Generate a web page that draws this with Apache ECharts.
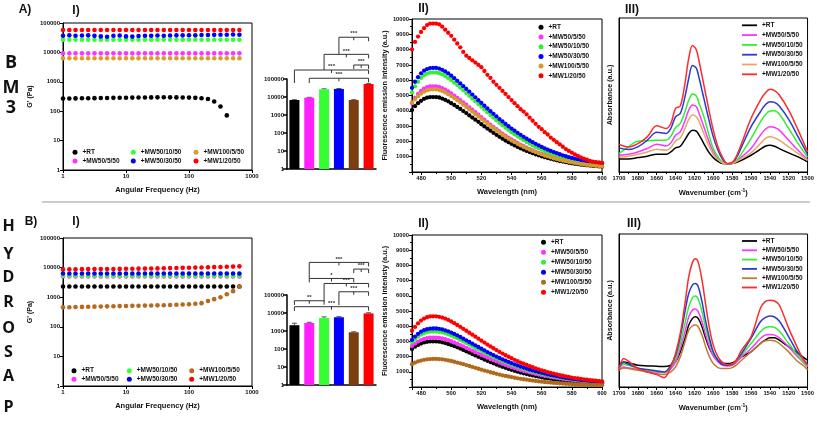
<!DOCTYPE html>
<html><head><meta charset="utf-8">
<script src="https://cdn.jsdelivr.net/npm/echarts@6/dist/echarts.min.js"></script>
<style>html,body{margin:0;padding:0;background:#fff}#c{width:817px;height:421px}</style>
</head><body><div id="c"></div>
<script>
// ---------------- DATA ----------------
const groupNames = ['+RT','+MW50/5/50','+MW50/10/50','+MW50/30/50','+MW100/5/50','+MW1/20/50'];

// I) G' vs angular frequency
const freqHz = [1,1.26,1.58,2,2.51,3.16,3.98,5.01,6.31,7.94,10,12.6,15.8,20,25.1,31.6,39.8,50.1,63.1,79.4,100,126,158,200,251,316,398,501,631];
const gA_RT    = [270,270,272,275,275,278,280,282,284,286,288,290,292,294,295,296,297,296,295,293,290,285,275,260,215,145,72,null,null];
const gA_5     = [9300,9300,9300,9300,9300,9300,9300,9300,9300,9300,9300,9300,9300,9300,9300,9300,9300,9300,9300,9300,9300,9300,9300,9300,9300,9300,9300,9300,9300];
const gA_10    = [27000,27000,27000,27000,27000,27000,27000,27000,27000,27000,27000,27000,27000,27000,27000,27000,27000,27000,27000,27000,27000,27000,27000,27000,27000,27000,27000,27000,27000];
const gA_30    = [37000,38000,37000,37500,38000,36500,35000,34000,37000,37500,35000,34500,36000,37000,37000,37500,37000,37500,38000,38000,38500,38000,39000,39000,39500,40000,40000,40500,40000];
const gA_100   = [6300,6300,6300,6300,6300,6300,6300,6300,6300,6300,6300,6300,6300,6300,6300,6300,6300,6300,6300,6300,6300,6300,6300,6300,6300,6300,6300,6300,6300];
const gA_1     = [58000,58000,58000,58000,58000,58000,58000,58000,58000,58000,58000,58000,58000,58000,58000,58000,58000,58000,58000,58000,58000,58000,58000,58000,58000,58000,58000,58000,58000];

const gB_RT    = [2300,2300,2300,2300,2300,2300,2300,2300,2300,2300,2300,2300,2300,2300,2300,2300,2300,2300,2300,2300,2300,2300,2300,2300,2300,2300,2300,2300,2300];
const gB_5     = [5000,5000,5000,5000,5000,5000,5000,5000,5000,5000,5000,5000,5000,5000,5000,5000,5000,5000,5000,5000,5000,5000,5000,5000,5000,5000,5000,5000,5000];
const gB_10    = [5300,5300,5300,5300,5300,5300,5300,5300,5300,5300,5300,5300,5300,5300,5300,5300,5300,5300,5300,5300,5300,5300,5300,5300,5300,5300,5300,5300,5300];
const gB_30    = [6300,6300,6300,6300,6300,6300,6300,6300,6300,6300,6300,6300,6300,6300,6300,6300,6300,6300,6300,6300,6300,6300,6300,6300,6300,6300,6300,6300,6300];
const gB_100   = [460,460,465,470,475,480,485,490,495,500,505,510,515,520,525,530,535,545,555,565,580,600,630,740,860,1000,1260,1600,2250];
const gB_1     = [8700,8750,8800,8850,8900,8900,8950,9000,9000,9050,9100,9150,9200,9250,9300,9400,9500,9600,9700,9800,9900,10000,10100,10200,10400,10500,10700,10800,11000];

// I) bar insets
const barA = [6800, 9200, 27000, 28000, 6800, 53000];
const barAErr = [300, 400, 1500, 1500, 300, 4000];
const barB = [2100, 2800, 5300, 5800, 850, 9500];
const barBErr = [600, 250, 800, 500, 60, 800];
// significance brackets: from group, to group, level, base of left leg, label
const brA_from = [3, 2, 4, 0, 1];
const brA_to   = [5, 5, 5, 5, 5];
const brA_lvl  = [2.09e7, 2.34e6, 6.0e5, 3.16e5, 1.1e5];
const brA_base = [2.34e6, 3.16e5, 3.6e5, 6.0e4, 6.0e4];
const brA_lab  = ['***','***','***','***','***'];
const brB_from = [1, 4, 1, 2, 3, 0, 0];
const brB_to   = [5, 5, 4, 5, 5, 2, 5];
const brB_lvl  = [6.46e6, 2.75e6, 8.3e5, 4.37e5, 1.51e5, 4.8e4, 2.24e4];
const brB_base = [8.3e5, 1.66e6, 5.0e5, 4.3e4, 2.75e4, 2.8e4, 1.3e4];
const brB_lab  = ['***','***','*','***','***','**','***'];

// II) fluorescence emission
const waveNm = [474,476,478,480,482,484,486,488,490,492,494,496,498,500,502,504,506,508,510,512,514,516,518,520,522,524,526,528,530,532,534,536,538,540,542,544,546,548,550,552,554,556,558,560,562,564,566,568,570,572,574,576,578,580,582,584,586,588,590,592,594,596,598,600];
const flA_RT  = [4050,4300,4500,4650,4780,4860,4900,4900,4900,4870,4800,4720,4620,4500,4380,4250,4120,3980,3850,3700,3560,3420,3280,3120,2980,2840,2700,2560,2430,2300,2180,2060,1950,1840,1740,1640,1550,1460,1380,1300,1230,1160,1090,1030,970,910,860,810,760,720,680,640,600,570,540,510,480,460,440,420,400,380,365,350];
const flA_5   = [4500,4850,5100,5300,5450,5550,5600,5600,5600,5560,5480,5380,5260,5130,4990,4850,4700,4550,4400,4230,4070,3910,3750,3580,3420,3260,3100,2950,2800,2650,2510,2380,2250,2130,2010,1900,1790,1690,1590,1500,1410,1330,1250,1180,1110,1050,990,930,880,830,780,740,700,660,620,590,560,530,500,480,460,440,420,400];
const flA_10  = [5200,5600,5900,6150,6320,6430,6490,6500,6500,6460,6380,6270,6140,6000,5840,5680,5510,5340,5160,4980,4800,4620,4440,4260,4080,3900,3720,3550,3380,3210,3050,2900,2750,2600,2460,2330,2200,2080,1960,1850,1740,1640,1550,1460,1370,1290,1210,1140,1070,1010,950,890,840,790,740,700,660,620,590,560,530,500,480,460];
const flA_30  = [5500,5900,6200,6450,6620,6730,6790,6800,6800,6760,6680,6570,6440,6290,6130,5960,5790,5610,5430,5250,5060,4880,4690,4510,4330,4150,3970,3800,3630,3460,3300,3140,2990,2840,2700,2560,2430,2300,2180,2060,1950,1840,1740,1640,1550,1460,1380,1300,1230,1160,1090,1030,970,920,870,820,780,740,700,670,640,610,580,560];
const flA_100 = [4550,4750,4950,5120,5250,5340,5390,5400,5400,5360,5290,5200,5080,4960,4830,4690,4550,4400,4250,4090,3940,3780,3630,3470,3310,3160,3010,2860,2720,2580,2440,2310,2180,2060,1950,1840,1740,1640,1550,1460,1380,1300,1220,1150,1080,1020,960,900,850,800,750,710,670,630,590,560,530,500,470,450,430,410,390,370];
const flA_1   = [8000,8500,8850,9150,9400,9600,9700,9700,9700,9650,9500,9300,9100,8900,8650,8400,8150,7850,7600,7450,7300,7150,7000,6850,6600,6350,6150,5900,5700,5500,5300,5100,4900,4700,4500,4300,4100,3950,3760,3550,3350,3150,2950,2800,2600,2450,2250,2100,1950,1800,1650,1500,1380,1260,1150,1050,960,880,800,720,680,650,620,600];

const flB_RT  = [2500,2650,2770,2860,2930,2970,3000,3000,3000,2980,2940,2890,2830,2760,2690,2610,2530,2440,2350,2260,2170,2080,1990,1900,1810,1720,1640,1560,1480,1400,1330,1260,1190,1130,1070,1010,950,900,850,800,760,720,680,640,600,570,540,510,480,460,430,410,390,370,350,335,320,305,290,280,270,260,250,240];
const flB_5   = [2700,2860,2990,3090,3170,3220,3250,3250,3250,3230,3190,3140,3080,3010,2930,2850,2760,2670,2580,2480,2390,2290,2200,2110,2020,1930,1840,1760,1680,1600,1520,1450,1380,1310,1250,1180,1120,1060,1010,960,910,860,820,780,740,700,660,630,600,570,540,510,490,470,440,420,400,385,370,355,340,325,315,300];
const flB_10  = [2950,3150,3320,3450,3550,3610,3640,3650,3650,3630,3590,3530,3460,3380,3290,3200,3100,3000,2900,2790,2690,2580,2480,2370,2270,2170,2070,1980,1890,1800,1710,1630,1550,1470,1400,1330,1260,1190,1130,1070,1010,960,910,860,820,770,730,690,660,620,590,560,530,500,480,450,430,410,390,370,355,340,325,310];
const flB_30  = [3100,3320,3500,3640,3740,3800,3840,3850,3850,3830,3790,3730,3660,3580,3490,3390,3290,3180,3070,2960,2850,2740,2630,2520,2410,2300,2200,2100,2000,1910,1820,1730,1650,1570,1490,1420,1350,1280,1210,1150,1090,1030,980,930,880,830,790,750,710,670,640,600,570,540,510,490,460,440,420,400,380,360,345,330];
const flB_100 = [1500,1600,1680,1740,1790,1820,1840,1850,1850,1840,1820,1790,1750,1710,1660,1610,1560,1500,1440,1380,1320,1260,1200,1140,1080,1030,970,920,870,820,770,730,690,650,610,570,540,510,480,450,420,400,370,350,330,310,290,270,260,240,230,215,200,190,180,170,160,150,145,140,135,130,125,120];
const flB_1   = [3700,3950,4180,4370,4500,4590,4640,4650,4650,4620,4570,4500,4410,4310,4200,4080,3960,3830,3700,3570,3440,3310,3180,3050,2920,2790,2670,2550,2430,2310,2200,2090,1990,1890,1790,1700,1610,1530,1450,1370,1300,1230,1160,1100,1040,980,930,880,830,780,740,700,660,620,590,560,530,500,480,450,430,410,390,370];

// III) FTIR absorbance (a.u.)
const wnA = [1700,1690,1680,1670,1660,1650,1645,1640,1635,1630,1626,1622,1618,1615,1610,1605,1600,1595,1590,1585,1580,1575,1570,1560,1550,1545,1540,1535,1530,1520,1510,1500];
const irA_RT  = [39,39,43,47,53,53,60,72,77,97,115,125,122,110,85,60,43,32,25,24,25,29,35,50,68,77,80,77,70,57,45,30];
const irA_5   = [50,53,60,70,83,78,87,110,120,153,185,200,195,175,135,95,60,40,27,25,27,35,45,70,110,127,135,133,125,95,65,37];
const irA_10  = [55,75,92,93,95,95,107,133,145,180,215,233,227,205,165,115,70,45,29,23,25,35,55,100,150,170,182,183,173,130,85,45];
const irA_30  = [72,67,75,95,119,115,130,165,175,225,280,318,310,280,220,160,105,65,37,25,27,45,75,135,180,200,210,208,197,157,105,53];
const irA_100 = [45,47,53,60,68,65,73,93,102,130,157,170,165,150,115,80,53,37,27,25,26,32,40,57,85,100,105,102,95,75,55,35];
const irA_1   = [83,75,85,105,138,130,145,190,197,265,340,378,365,330,260,190,125,75,43,25,28,50,85,160,215,235,247,243,230,185,125,60];

const wnB = [1700,1695,1690,1680,1670,1660,1652,1645,1640,1635,1630,1626,1622,1619,1616,1612,1608,1604,1600,1595,1590,1585,1580,1575,1570,1560,1550,1545,1540,1535,1530,1520,1512,1505,1500];
const irB_RT  = [67,75,72,65,63,62,61,65,75,105,145,185,205,210,205,180,145,115,95,80,72,70,72,80,90,105,130,140,147,147,140,120,105,90,80];
const irB_5   = [50,60,57,53,48,45,43,55,75,115,165,210,230,233,225,195,155,120,93,75,65,63,65,75,90,115,145,155,157,155,147,120,95,75,60];
const irB_10  = [55,67,65,55,50,47,45,60,85,130,190,240,267,272,263,225,175,135,102,80,69,65,67,80,95,130,165,177,180,178,167,130,100,77,63];
const irB_30  = [57,73,68,57,52,48,45,65,95,150,225,280,305,309,300,255,195,145,105,80,67,65,67,82,100,145,195,207,212,209,197,150,110,85,67];
const irB_100 = [50,57,55,50,45,40,37,45,60,90,135,170,183,185,180,155,120,90,70,58,55,55,58,67,80,105,130,138,140,138,130,105,80,65,52];
const irB_1   = [50,85,77,55,45,37,28,60,100,160,250,330,373,383,373,320,245,175,125,90,73,67,68,83,110,150,235,255,259,257,245,175,125,85,65];

// ---------------- STYLE ----------------
const FONT = '"Liberation Sans", Arial, sans-serif';
const colI_A   = ['#000000','#ff33ff','#33ff33','#0000ff','#d6a02e','#ff0000'];
const colI_B   = ['#000000','#ff33ff','#33ff33','#0000ff','#b8691e','#ff0000'];
const colBar   = ['#000000','#ff22ff','#33ff33','#0000ff','#7a3e10','#ff0000'];
const colII_A  = ['#000000','#ff33ff','#33ee33','#0000ff','#d49a2c','#ff0000'];
const colII_B  = ['#000000','#ff33ff','#33ee33','#0000ff','#b06a1c','#ff0000'];
const colIII_A = ['#000000','#ff33ff','#33ee33','#2a3bcc','#e4a864','#ff2a2a'];
const colIII_B = ['#000000','#ff33ff','#33ee33','#2a3bcc','#c07a30','#ff2a2a'];

function txt(size, extra){ return Object.assign({fontFamily:FONT, fontWeight:'bold', color:'#111', fontSize:size}, extra||{}); }
function fmtInt(v){ return String(Math.round(v)); }
const axLine = {show:true, onZero:false, lineStyle:{color:'#000', width:1}};
function ticks(len){ return {show:true, inside:false, length:len, lineStyle:{color:'#000', width:1}}; }
const noSplit = {show:false};

const grids = [
  {left:63,  top:23,  width:189, height:147, show:true, borderColor:'#000', borderWidth:1}, // A-I
  {left:63,  top:238, width:189, height:148, show:true, borderColor:'#000', borderWidth:1}, // B-I
  {left:287, top:79,  width:89,  height:90}, // A bar
  {left:287, top:295, width:89,  height:90}, // B bar
  {left:412, top:19,  width:190, height:153, show:true, borderColor:'#000', borderWidth:1}, // A-II
  {left:412, top:235, width:190, height:152, show:true, borderColor:'#000', borderWidth:1}, // B-II
  {left:619, top:18,  width:190, height:154, show:true, borderColor:'#000', borderWidth:1}, // A-III
  {left:619, top:234, width:190, height:153, show:true, borderColor:'#000', borderWidth:1}  // B-III
];

const xAxes = [], yAxes = [];
[0,1].forEach(g => {
  xAxes.push({gridIndex:g, type:'log', logBase:10, min:1, max:1000, axisLine:axLine, axisTick:ticks(3), splitLine:noSplit,
    axisLabel:txt(6,{margin:3, formatter:fmtInt}), name:'Angular Frequency (Hz)', nameLocation:'middle', nameGap:16, nameTextStyle:txt(7.5)});
  yAxes.push({gridIndex:g, type:'log', logBase:10, min:1, max:100000, axisLine:axLine, axisTick:ticks(3), splitLine:noSplit,
    axisLabel:txt(6,{margin:3, formatter:fmtInt}), name:"G' (Pa)", nameLocation:'middle', nameGap:29, nameRotate:90, nameTextStyle:txt(7)});
});
[2,3].forEach(g => {
  xAxes.push({gridIndex:g, type:'category', data:groupNames, axisLine:{show:true, lineStyle:{color:'#000', width:1.5}},
    axisTick:{show:false}, axisLabel:{show:false}, splitLine:noSplit});
  yAxes.push({gridIndex:g, type:'log', logBase:10, min:1, max:100000, axisLine:{show:true, lineStyle:{color:'#000', width:1.5}},
    axisTick:{show:true, length:4, lineStyle:{color:'#000', width:1.5}}, splitLine:noSplit, axisLabel:txt(6,{margin:3, formatter:fmtInt})});
});
[4,5].forEach(g => {
  xAxes.push({gridIndex:g, type:'value', min:474, max:600, minInterval:20, maxInterval:20, axisLine:axLine, axisTick:ticks(3),
    minorTick:{show:true, splitNumber:2, length:2, lineStyle:{color:'#000'}}, splitLine:noSplit,
    axisLabel:txt(5.8,{margin:3, formatter:fmtInt}), name:'Wavelength (nm)', nameLocation:'middle', nameGap:16, nameTextStyle:txt(7.5)});
  yAxes.push({gridIndex:g, type:'value', min:0, max:10000, interval:1000, axisLine:axLine, axisTick:ticks(3),
    minorTick:{show:true, splitNumber:2, length:2, lineStyle:{color:'#000'}}, splitLine:noSplit,
    axisLabel:txt(5.8,{margin:3, formatter:v => v === 0 ? '' : String(v)}),
    name: g === 4 ? 'Fluorescence emission intensity (a.u.)' : 'Fluorescence emission intenisty (a.u.)',
    nameLocation:'middle', nameGap:22, nameRotate:90, nameTextStyle:txt(7.2)});
});
[6,7].forEach(g => {
  xAxes.push({gridIndex:g, type:'value', inverse:true, min:1500, max:1700, interval:20, axisLine:axLine, axisTick:ticks(3),
    minorTick:{show:true, splitNumber:2, length:2, lineStyle:{color:'#000'}}, splitLine:noSplit,
    axisLabel:txt(5.8,{margin:3, formatter:fmtInt}), name:'Wavenumber (cm{s|-1})', nameLocation:'middle', nameGap:16,
    nameTextStyle:txt(7.5,{rich:{s:{fontFamily:FONT, fontWeight:'bold', fontSize:5, color:'#111', padding:[0,0,5,0]}}})});
  yAxes.push({gridIndex:g, type:'value', min:0, max: g === 6 ? 460 : 457, axisLine:axLine, axisTick:{show:false}, axisLabel:{show:false},
    splitLine:noSplit, name:'Absorbance (a.u.)', nameLocation:'middle', nameGap:5, nameRotate:90, nameTextStyle:txt(7.2)});
});

const series = [];
function scatterSet(prefix, g, xs, lists, colors, size){
  lists.forEach((vals, k) => {
    const data = [];
    xs.forEach((x, i) => { if (vals[i] != null) data.push([x, vals[i]]); });
    series.push({name: prefix + '|' + groupNames[k], type:'scatter', xAxisIndex:g, yAxisIndex:g, symbol:'circle',
      symbolSize:size, itemStyle:{color:colors[k], opacity:1}, data});
  });
}
function lineSet(prefix, g, xs, lists, colors){
  lists.forEach((vals, k) => {
    series.push({name: prefix + '|' + groupNames[k], type:'line', xAxisIndex:g, yAxisIndex:g, symbol:'none', smooth:0.35,
      lineStyle:{color:colors[k], width:1.5}, itemStyle:{color:colors[k]}, data: xs.map((x, i) => [x, vals[i]])});
  });
}
scatterSet('aI', 0, freqHz, [gA_RT, gA_5, gA_10, gA_30, gA_100, gA_1], colI_A, 4.6);
scatterSet('bI', 1, freqHz, [gB_RT, gB_5, gB_10, gB_30, gB_100, gB_1], colI_B, 4.6);
scatterSet('aII', 4, waveNm, [flA_RT, flA_5, flA_10, flA_30, flA_100, flA_1], colII_A, 4.3);
scatterSet('bII', 5, waveNm, [flB_RT, flB_5, flB_10, flB_30, flB_100, flB_1], colII_B, 4.3);
lineSet('aIII', 6, wnA, [irA_RT, irA_5, irA_10, irA_30, irA_100, irA_1], colIII_A);
lineSet('bIII', 7, wnB, [irB_RT, irB_5, irB_10, irB_30, irB_100, irB_1], colIII_B);

function barSet(g, vals, errs, bFrom, bTo, bLvl, bBase, bLab){
  series.push({type:'bar', xAxisIndex:g, yAxisIndex:g, barWidth:10,
    data: vals.map((v, i) => ({value:v, itemStyle:{color:colBar[i]}}))});
  series.push({type:'custom', xAxisIndex:g, yAxisIndex:g, clip:false, encode:{x:0, y:1},
    data: vals.map((v, i) => [i, v, v + errs[i]]),
    renderItem: (p, api) => {
      const a = api.coord([api.value(0), api.value(1)]);
      const b = api.coord([api.value(0), api.value(2)]);
      return {type:'group', children:[
        {type:'line', shape:{x1:a[0], y1:a[1], x2:b[0], y2:b[1]}, style:{stroke:'#555', lineWidth:1}},
        {type:'line', shape:{x1:b[0]-2.5, y1:b[1], x2:b[0]+2.5, y2:b[1]}, style:{stroke:'#555', lineWidth:1}}
      ]};
    }});
  series.push({type:'custom', xAxisIndex:g, yAxisIndex:g, clip:false, encode:{x:0, y:1},
    data: bFrom.map((f, i) => [f, bLvl[i], bTo[i], bBase[i]]),
    renderItem: (p, api) => {
      const L = api.coord([api.value(0), api.value(1)]);
      const R = api.coord([api.value(2), api.value(1)]);
      const B = api.coord([api.value(0), api.value(3)]);
      const mid = (L[0] + R[0]) / 2;
      return {type:'group', children:[
        {type:'polyline', shape:{points:[[L[0], B[1]], [L[0], L[1]], [R[0], R[1]], [R[0], R[1] + 4]]},
          style:{stroke:'#333', lineWidth:1, fill:null}},
        {type:'line', shape:{x1:mid, y1:L[1], x2:mid, y2:L[1] + 3}, style:{stroke:'#333', lineWidth:1}},
        {type:'text', style:{text:bLab[p.dataIndex], x:mid, y:L[1] - 0.5, align:'center', verticalAlign:'bottom',
          fontSize:6, fontFamily:FONT, fontWeight:'bold', fill:'#333'}}
      ]};
    }});
}
barSet(2, barA, barAErr, brA_from, brA_to, brA_lvl, brA_base, brA_lab);
barSet(3, barB, barBErr, brB_from, brB_to, brB_lvl, brB_base, brB_lab);

function legend(prefix, idxs, left, top, gap, iw, ih, icon){
  return {orient:'vertical', left, top, padding:0, itemGap:gap, itemWidth:iw, itemHeight:ih, selectedMode:false,
    data: idxs.map(i => icon ? {name: prefix + '|' + groupNames[i], icon} : prefix + '|' + groupNames[i]),
    formatter: n => n.slice(n.indexOf('|') + 1),
    textStyle: txt(6.5, {lineHeight:8})};
}
const legends = [
  legend('aI', [0,1], 72.5, 148.3, 0.7, 5, 5),
  legend('aI', [2,3], 130.8, 148.3, 0.7, 5, 5),
  legend('aI', [4,5], 193.5, 148.3, 0.7, 5, 5),
  legend('bI', [0,1], 71.5, 366.7, 0.6, 5, 5),
  legend('bI', [2,3], 126.8, 366.7, 0.6, 5, 5),
  legend('bI', [4,5], 189.2, 366.7, 0.6, 5, 5),
  legend('aII', [0,1,2,3,4,5], 538.5, 23.3, 1.7, 5, 5),
  legend('bII', [0,1,2,3,4,5], 541, 238.3, 2, 5, 5),
  legend('aIII', [0,1,2,3,4,5], 742, 21.3, 1.8, 15, 1.8, 'rect'),
  legend('bIII', [0,1,2,3,4,5], 742, 237, 1.3, 15, 1.8, 'rect')
];

function label(t, x, y, size, family){
  return {type:'text', x, y, silent:true, style:{text:t, align:'center', verticalAlign:'middle', fill:'#111',
    font:'bold ' + size + 'px ' + (family || FONT)}};
}
const graphics = [
  {type:'line', silent:true, shape:{x1:42, y1:202, x2:810, y2:202}, style:{stroke:'#999', lineWidth:1.2}},
  label('A)', 25, 10, 12), label('I)', 76, 10.5, 12), label('II)', 423.5, 9, 12), label('III)', 632, 10, 12),
  label('B)', 31, 222, 12), label('I)', 76, 222, 12), label('II)', 423.5, 224, 12), label('III)', 634, 224, 12)
];
const OS = '"Open Sans", sans-serif';
[['B',63],['M',87.5],['3',108.3]].forEach(([t, y]) => graphics.push(label(t, 11, y, 18, OS)));
[['H',226],['Y',254],['D',277.5],['R',302],['O',328],['S',352],['A',376],['P',407]].forEach(([t, y]) => graphics.push(label(t, 8.5, y, 16, OS)));

const chart = echarts.init(document.getElementById('c'), null, {renderer:'canvas'});
chart.setOption({
  animation:false, backgroundColor:'#fff',
  grid:grids, xAxis:xAxes, yAxis:yAxes, series, legend:legends, graphic:graphics
});
</script></body></html>
